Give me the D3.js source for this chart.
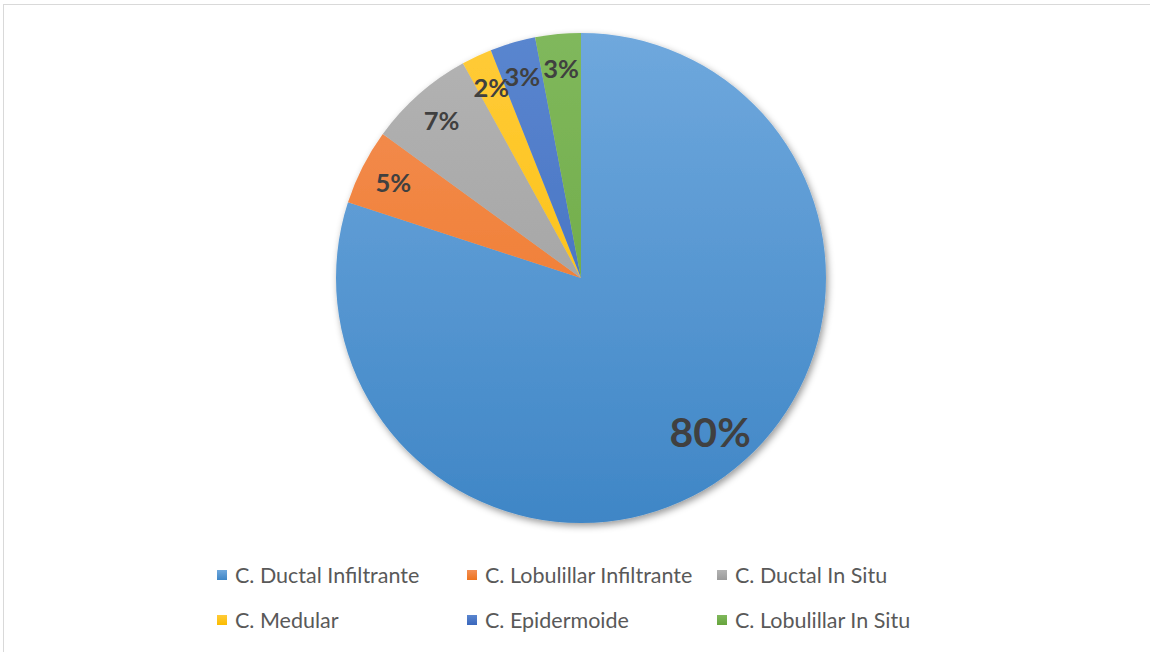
<!DOCTYPE html>
<html><head><meta charset="utf-8">
<script src="https://cdn.jsdelivr.net/npm/d3@7"></script>
<style>html,body{margin:0;padding:0;background:#fff;}svg{display:block;}</style>
</head><body>
<svg id="chart" width="1150" height="652"></svg>
<script>
const categories = ["C. Ductal Infiltrante","C. Lobulillar Infiltrante","C. Ductal In Situ","C. Medular","C. Epidermoide","C. Lobulillar In Situ"];
const values = [80, 5, 7, 2, 3, 3];
const labels = ["80%","5%","7%","2%","3%","3%"];
const colorsTop = ["#6FA8DD","#F38F55","#B3B3B3","#FFCB38","#5A86CF","#80B85C"];
const colorsBottom = ["#3F86C6","#EE731E","#9B9B9B","#FABC00","#3A67BC","#66A43C"];

const svg = d3.select("#chart");
const W = 1150, H = 652;
svg.append("rect").attr("x",3.5).attr("y",4.5).attr("width",W).attr("height",H)
  .attr("fill","#fff").attr("stroke","#d9d9d9").attr("stroke-width",1);

const cx = 581, cy = 278, R = 245;
const defs = svg.append("defs");
const filt = defs.append("filter").attr("id","shadow").attr("x","-10%").attr("y","-10%").attr("width","120%").attr("height","120%");
filt.append("feDropShadow").attr("dx",2).attr("dy",3).attr("stdDeviation",3.5).attr("flood-color","#000").attr("flood-opacity",0.4);

categories.forEach((c,i)=>{
  const g = defs.append("linearGradient").attr("id","grad"+i)
    .attr("gradientUnits","userSpaceOnUse").attr("x1",0).attr("x2",0).attr("y1",-R).attr("y2",R);
  g.append("stop").attr("offset","0%").attr("stop-color",colorsTop[i]);
  g.append("stop").attr("offset","100%").attr("stop-color",colorsBottom[i]);
});

const pie = d3.pie().sort(null).value(d=>d)(values);
const arc = d3.arc().innerRadius(0).outerRadius(R);
const gp = svg.append("g").attr("transform",`translate(${cx},${cy})`).attr("filter","url(#shadow)");
gp.selectAll("path").data(pie).join("path")
  .attr("d",arc)
  .attr("fill",(d,i)=>`url(#grad${i})`);

const gl = svg.append("g").attr("transform",`translate(${cx},${cy})`);
pie.forEach((d,i)=>{
  const big = d.value > 50;
  const a = (d.startAngle+d.endAngle)/2 - (big ? 0.07 : 0);
  const lr = big ? R*0.82 : R*0.86;
  gl.append("text").attr("x",lr*Math.sin(a)).attr("y",-lr*Math.cos(a))
    .attr("text-anchor","middle").attr("dominant-baseline","central")
    .attr("font-family","Lato, 'Open Sans', sans-serif").attr("font-weight","bold")
    .attr("font-size", big ? 41 : 25.5).attr("fill","#404040").text(labels[i]);
});

// legend
const lx = d3.scalePoint().domain([0,1,2]).range([217,717]);
const ly = d3.scalePoint().domain([0,1]).range([575,620]);
const lg = svg.append("g");
categories.forEach((c,i)=>{
  const col = i%3, row = Math.floor(i/3);
  const x = lx(col), y = ly(row);
  const g = defs.append("linearGradient").attr("id","lgrad"+i).attr("x1",0).attr("x2",0).attr("y1",0).attr("y2",1);
  g.append("stop").attr("offset","0%").attr("stop-color",colorsTop[i]);
  g.append("stop").attr("offset","100%").attr("stop-color",colorsBottom[i]);
  lg.append("rect").attr("x",x).attr("y",y-5).attr("width",10).attr("height",10)
    .attr("fill",`url(#lgrad${i})`);
  lg.append("text").attr("x",x+18).attr("y",y).attr("dominant-baseline","central")
    .attr("font-family","Lato, 'Open Sans', sans-serif").attr("font-size",21.5)
    .attr("fill","#595959").text(c);
});
</script>
</body></html>
